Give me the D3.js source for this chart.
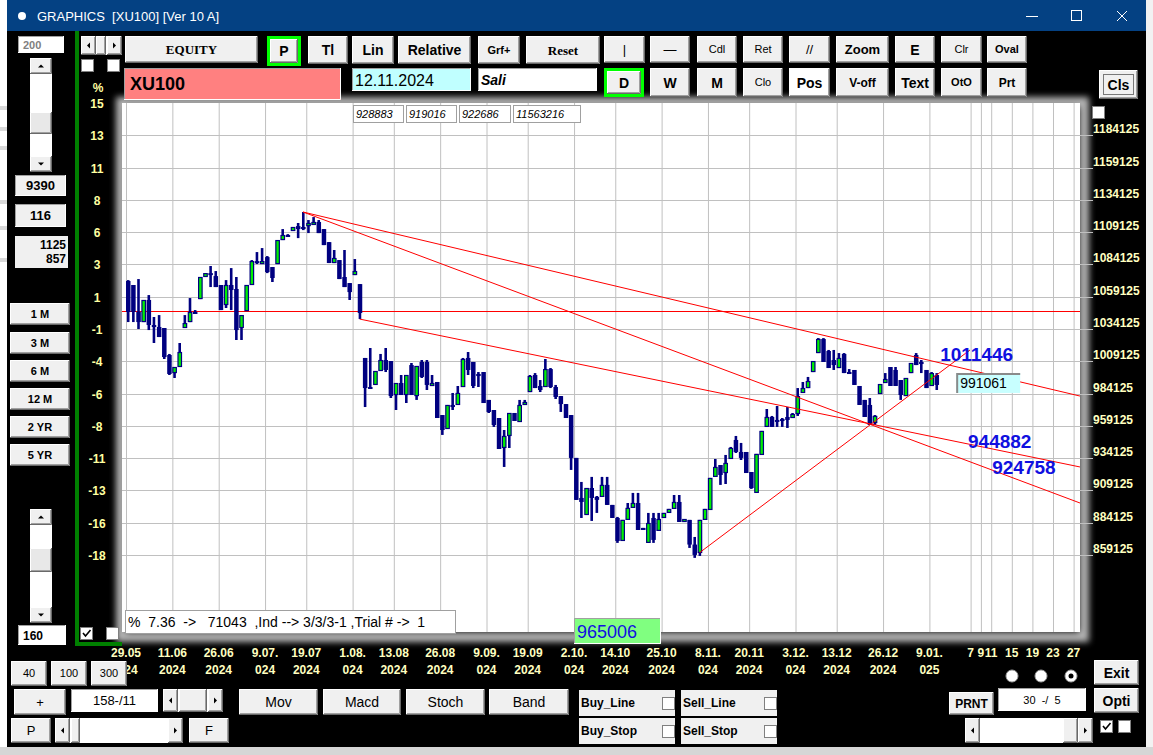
<!DOCTYPE html>
<html>
<head>
<meta charset="utf-8">
<title>GRAPHICS [XU100]</title>
<script src="https://cdn.jsdelivr.net/npm/d3@7"></script>
<style>
  body { margin: 0; background: #000; overflow: hidden; }
  svg { display: block; }
  text { white-space: pre; }
</style>
</head>
<body>
<svg id="app" width="1153" height="755"></svg>
<script>
// daily bars, values in thousands (right axis shows value * 1000)
const barOpen = [
  1071.3, 1068.2, 1047.3, 1039.5, 1056.6, 1037.2, 1035.7, 1034.9, 1014.0, 1000.0,
  1004.7, 1034.9, 1039.5, 1047.3, 1057.3, 1074.4, 1077.4, 1075.1, 1068.2, 1052.7,
  1068.2, 1065.1, 1034.9, 1048.0, 1068.2, 1086.7, 1085.2, 1089.8, 1082.1, 1084.4,
  1103.0, 1106.9, 1110.0, 1113.8, 1113.1, 1113.8, 1116.2, 1117.0, 1111.5, 1101.4,
  1085.2, 1087.5, 1074.4, 1069.7, 1075.9, 1068.9, 1011.7, 989.2, 990.8, 1001.6,
  1010.1, 1009.3, 983.0, 992.3, 983.0, 1006.2, 982.2, 1008.6, 1008.6, 991.5,
  993.1, 967.5, 956.7, 975.3, 975.3, 989.2, 1011.7, 1008.6, 999.3, 1000.8,
  979.2, 971.4, 965.2, 942.0, 951.3, 969.1, 962.1, 976.0, 985.3, 998.5,
  990.0, 989.2, 1003.1, 989.2, 982.2, 976.0, 967.5, 934.3, 903.3, 890.1,
  911.0, 904.1, 904.1, 913.4, 897.9, 887.8, 870.0, 886.3, 895.6, 899.4,
  880.1, 868.5, 887.8, 877.8, 887.8, 891.7, 894.8, 900.2, 885.5, 886.3,
  867.2, 860.7, 886.3, 894.0, 919.6, 928.8, 922.6, 933.5, 948.2, 938.9,
  938.9, 923.4, 907.2, 936.6, 958.3, 966.0, 963.7, 964.4, 966.0, 965.2,
  968.3, 984.6, 988.4, 1000.8, 1015.5, 1026.4, 1017.1, 1010.1, 1003.9, 1014.8,
  1000.8, 1002.4, 990.0, 979.2, 975.3, 961.3, 983.8, 992.3, 1004.7, 1002.4,
  994.6, 982.2, 1000.0, 1014.0, 1008.6, 1002.4, 990.0, 998.5
];
const barHigh = [
  1072.0, 1068.2, 1072.8, 1056.6, 1060.4, 1043.4, 1044.9, 1034.9, 1014.8, 1004.7,
  1023.3, 1044.9, 1058.1, 1048.8, 1074.4, 1077.4, 1082.9, 1079.0, 1068.2, 1072.0,
  1081.3, 1074.4, 1044.9, 1068.2, 1087.5, 1093.7, 1096.8, 1090.6, 1082.1, 1103.0,
  1111.5, 1107.6, 1113.1, 1116.2, 1124.7, 1118.5, 1120.8, 1118.5, 1111.5, 1101.4,
  1095.3, 1087.5, 1095.3, 1069.7, 1088.3, 1068.9, 1011.7, 1019.4, 1001.6, 1014.8,
  1019.4, 1009.3, 992.3, 998.5, 998.5, 1007.8, 1005.5, 1010.1, 1010.1, 998.5,
  993.1, 967.5, 975.3, 984.6, 990.0, 1011.7, 1016.3, 1008.6, 1000.8, 1000.8,
  979.2, 971.4, 965.2, 955.9, 969.1, 969.1, 979.2, 979.2, 998.5, 1000.0,
  994.6, 1010.9, 1003.9, 990.8, 982.2, 976.0, 967.5, 934.3, 915.7, 911.0,
  919.6, 904.8, 919.6, 919.6, 897.9, 888.6, 886.3, 899.4, 907.2, 907.2,
  880.1, 891.7, 891.7, 891.7, 891.7, 894.8, 905.6, 905.6, 887.0, 886.3,
  873.1, 886.3, 894.8, 918.8, 933.5, 928.8, 936.6, 942.8, 951.3, 945.9,
  938.9, 923.4, 937.4, 955.2, 972.2, 966.8, 974.5, 965.2, 973.7, 969.1,
  988.4, 993.1, 997.0, 1009.3, 1027.1, 1027.1, 1017.9, 1017.9, 1015.5, 1015.5,
  1003.1, 1002.4, 990.0, 979.2, 980.7, 967.5, 991.5, 1000.0, 1004.7, 1004.7,
  994.6, 996.2, 1007.8, 1015.5, 1010.1, 1002.4, 1000.8, 1000.0
];
const barLow = [
  1039.5, 1039.5, 1034.1, 1039.5, 1033.3, 1023.3, 1027.9, 1010.9, 998.5, 996.2,
  1004.7, 1034.9, 1039.5, 1046.5, 1057.3, 1074.4, 1066.6, 1066.6, 1048.8, 1050.4,
  1048.8, 1025.6, 1025.6, 1048.0, 1068.2, 1084.4, 1085.2, 1077.4, 1070.5, 1084.4,
  1103.0, 1106.1, 1110.0, 1104.5, 1110.7, 1108.4, 1116.2, 1108.4, 1099.1, 1085.2,
  1085.2, 1072.8, 1066.6, 1056.6, 1075.9, 1041.8, 973.7, 987.7, 990.8, 1001.6,
  1000.8, 980.7, 971.4, 983.0, 976.8, 983.0, 979.2, 996.2, 986.9, 990.0,
  965.2, 952.1, 956.7, 971.4, 975.3, 989.2, 998.5, 988.4, 989.2, 976.8,
  969.1, 958.3, 941.2, 927.3, 942.0, 962.9, 962.1, 975.3, 985.3, 988.4,
  985.3, 989.2, 988.4, 979.9, 969.9, 965.2, 925.0, 901.8, 887.8, 890.1,
  885.5, 891.7, 904.1, 897.9, 887.8, 868.5, 870.0, 886.3, 895.6, 878.5,
  878.5, 868.5, 868.5, 877.8, 887.8, 891.7, 894.8, 884.7, 885.5, 864.6,
  856.9, 858.4, 886.3, 894.0, 919.6, 913.4, 914.1, 933.5, 938.1, 932.7,
  922.6, 910.3, 907.2, 936.6, 958.3, 958.3, 958.3, 958.3, 957.5, 965.2,
  966.8, 984.6, 988.4, 1000.8, 1015.5, 1008.6, 1003.9, 1002.4, 1003.9, 1000.0,
  999.3, 990.8, 975.3, 966.0, 959.8, 959.8, 983.8, 992.3, 990.0, 990.0,
  979.2, 982.2, 1000.0, 1006.2, 1000.0, 988.4, 990.0, 986.9
];
const barClose = [
  1047.3, 1047.3, 1039.5, 1056.6, 1037.2, 1035.7, 1027.9, 1012.4, 999.3, 1004.7,
  1016.3, 1038.7, 1047.3, 1046.5, 1074.4, 1077.4, 1076.7, 1066.6, 1048.8, 1068.2,
  1064.3, 1033.3, 1044.9, 1068.2, 1086.7, 1085.2, 1086.7, 1078.2, 1073.6, 1103.0,
  1106.9, 1106.1, 1113.1, 1111.5, 1111.5, 1116.2, 1117.0, 1108.4, 1099.1, 1085.2,
  1089.1, 1072.8, 1066.6, 1062.7, 1079.0, 1046.5, 988.4, 988.4, 1001.6, 1010.1,
  1002.4, 982.2, 992.3, 983.0, 998.5, 983.0, 1005.5, 997.0, 990.8, 992.3,
  965.2, 955.9, 975.3, 973.7, 984.6, 1010.9, 1002.4, 990.0, 997.7, 976.8,
  969.9, 959.8, 941.2, 951.3, 969.1, 962.9, 975.3, 977.6, 997.7, 988.4,
  986.9, 1003.1, 989.2, 981.5, 976.0, 965.2, 934.3, 901.8, 900.2, 911.0,
  903.3, 901.8, 913.4, 897.9, 887.8, 870.0, 886.3, 895.6, 899.4, 878.5,
  878.5, 883.9, 870.8, 887.0, 891.7, 894.8, 900.2, 884.7, 887.0, 867.2,
  859.2, 886.3, 894.8, 918.8, 927.3, 921.1, 930.4, 942.0, 938.9, 934.3,
  922.6, 911.0, 937.4, 955.2, 966.0, 958.3, 962.9, 962.9, 963.7, 968.3,
  982.2, 988.4, 993.8, 1009.3, 1026.4, 1008.6, 1003.9, 1006.2, 1011.7, 1000.0,
  1000.0, 990.8, 975.3, 966.0, 959.8, 966.8, 991.5, 995.4, 990.0, 990.0,
  983.0, 996.2, 1007.8, 1006.2, 1007.0, 988.4, 1000.0, 990.8
];

// x axis: bar index of each dated grid line
const dateTickIdx = [0, 9, 18, 27, 35, 44, 52, 61, 70, 78, 87, 95, 104, 113, 121, 130, 138, 147, 156];
const dateTickTop = ["29.05", "11.06", "26.06", "9.07.", "19.07", "1.08.", "13.08", "26.08", "9.09.", "19.09",
                     "2.10.", "14.10", "25.10", "8.11.", "20.11", "3.12.", "13.12", "26.12", "9.01."];
// first one is cut by the 300 button, only "24" shows
const dateTickBottom = ["24", "2024", "2024", "024", "2024", "024", "2024", "2024", "024", "2024",
                        "024", "2024", "2024", "024", "2024", "024", "2024", "2024", "025"];
const futureTickIdx = [164, 166, 168, 172, 176, 180, 184];
const futureTickLabels = ["7", "9", "11", "15", "19", "23", "27"];

// y axis: grid levels (thousands) with the % labels of the left scale
const priceTicks = [1209.125, 1184.125, 1159.125, 1134.125, 1109.125, 1084.125, 1059.125, 1034.125,
                    1009.125, 984.125, 959.125, 934.125, 909.125, 884.125, 859.125];
const pctLabels = ["15", "13", "11", "8", "6", "3", "1", "-1", "-4", "-6", "-8", "-11", "-13", "-16", "-18"];
const baseLevel = 1048.0;

// drawn trend lines: [bar index, value] -> [bar index, value]
const trendLines = [
  [[34, 1124.7], [184.85, 982.2]],
  [[34, 1124.7], [184.85, 899.4]],
  [[45, 1041.8], [184.85, 927.3]],
  [[111, 861.0], [163.5, 1017.9]]
];
const lineValueLabels = [["1011446", 158.1, 1009.3], ["944882", 163.5, 942.0], ["924758", 168.2, 921.9]];
const lastValueBox = ["991061", 161.2, 1000.0, 984.6];

const NAVY = "#000080", GREEN = "#00f000", RED = "#ff0000", GRID = "#c0c0c0";
const AXIS_TXT = "#ffffc0";
const FONT = "'Liberation Sans', Arial, sans-serif";
const SERIF = "'Liberation Serif', 'Times New Roman', serif";
const PLOT = {left: 122, right: 1080, top: 103, bottom: 632};

const X = d3.scaleLinear().domain([0, 184]).range([126, 126 + 5.15 * 184]);
const Y = d3.scaleLinear().domain([859.125, 1209.125]).range([555, 103]);

const svg = d3.select("#app");
const defs = svg.append("defs");
defs.append("filter").attr("id", "soft")
    .attr("x", "-5%").attr("y", "-5%").attr("width", "110%").attr("height", "110%")
  .append("feGaussianBlur").attr("stdDeviation", 3);
defs.append("clipPath").attr("id", "plotClip").append("rect")
    .attr("x", PLOT.left).attr("y", PLOT.top)
    .attr("width", PLOT.right - PLOT.left + 2).attr("height", PLOT.bottom - PLOT.top);
defs.append("clipPath").attr("id", "rightClip").append("rect")
    .attr("x", 1085).attr("y", 122).attr("width", 60).attr("height", 500);

// ---------- helpers ----------
function label(x, y, str, size, opts = {}) {
  return svg.append("text")
      .attr("x", x).attr("y", y)
      .attr("font-family", opts.family || FONT)
      .attr("font-size", size)
      .attr("font-weight", opts.bold ? "bold" : "normal")
      .attr("font-style", opts.italic ? "italic" : "normal")
      .attr("text-anchor", opts.anchor || "start")
      .attr("fill", opts.color || "#000")
      .text(str);
}

function box(x, y, w, h, fill, style) {
  const g = svg.append("g");
  g.append("rect").attr("x", x).attr("y", y).attr("width", w).attr("height", h).attr("fill", fill);
  if (style === "raised") {
    g.append("path").attr("d", `M${x + 0.5},${y + h - 1}V${y + 0.5}H${x + w - 1}`)
        .attr("stroke", "#fff").attr("fill", "none");
    g.append("path").attr("d", `M${x},${y + h - 0.5}H${x + w - 0.5}V${y}`)
        .attr("stroke", "#696969").attr("fill", "none");
    g.append("path").attr("d", `M${x + 1},${y + h - 1.5}H${x + w - 1.5}V${y + 1}`)
        .attr("stroke", "#a0a0a0").attr("fill", "none");
  } else if (style === "sunken") {
    g.append("path").attr("d", `M${x + 0.5},${y + h}V${y + 0.5}H${x + w}`)
        .attr("stroke", "#a0a0a0").attr("fill", "none");
    g.append("path").attr("d", `M${x},${y + h - 0.5}H${x + w - 0.5}V${y}`)
        .attr("stroke", "#fff").attr("fill", "none");
  } else if (style === "line") {
    g.select("rect").attr("stroke", "#a0a0a0").attr("x", x + 0.5).attr("y", y + 0.5)
        .attr("width", w - 1).attr("height", h - 1);
  }
  return g;
}

function button(x, y, w, h, str, size, opts = {}) {
  box(x, y, w, h, opts.face || "#f0f0f0", "raised");
  label(x + w / 2, y + h / 2 + size * 0.36, str, size, Object.assign({anchor: "middle"}, opts));
}

function checkbox(x, y, checked) {
  svg.append("rect").attr("x", x + 0.5).attr("y", y + 0.5).attr("width", 12).attr("height", 12)
      .attr("fill", "#fff").attr("stroke", "#808080");
  if (checked) {
    svg.append("path").attr("d", `M${x + 3},${y + 6}l2.5,3l5,-6`)
        .attr("stroke", "#000").attr("stroke-width", 1.6).attr("fill", "none");
  }
}

function arrow(cx, cy, dir) {
  const p = {up: "M-3,1.5L3,1.5L0,-1.5Z", down: "M-3,-1.5L3,-1.5L0,1.5Z",
             left: "M1.5,-3L1.5,3L-1.5,0Z", right: "M-1.5,-3L-1.5,3L1.5,0Z"}[dir];
  svg.append("path").attr("d", p).attr("transform", `translate(${cx},${cy})`).attr("fill", "#000");
}

function vscroll(x, y, w, h, thumbY, thumbH) {
  svg.append("rect").attr("x", x).attr("y", y).attr("width", w).attr("height", h).attr("fill", "#fff");
  box(x, y, w, 16, "#f0f0f0", "raised"); arrow(x + w / 2, y + 8, "up");
  box(x, y + h - 16, w, 16, "#f0f0f0", "raised"); arrow(x + w / 2, y + h - 8, "down");
  box(x, thumbY, w, thumbH, "#e8e8e8", "raised");
}

function hscroll(x, y, w, h, thumbX, thumbW) {
  svg.append("rect").attr("x", x).attr("y", y).attr("width", w).attr("height", h).attr("fill", "#fff");
  box(x, y, 15, h, "#f0f0f0", "raised"); arrow(x + 7.5, y + h / 2, "left");
  box(x + w - 15, y, 15, h, "#f0f0f0", "raised"); arrow(x + w - 7.5, y + h / 2, "right");
  box(thumbX, y, thumbW, h, "#f0f0f0", "raised");
}

// ---------- window ----------
svg.append("rect").attr("width", 1153).attr("height", 755).attr("fill", "#000");
svg.append("rect").attr("x", 0).attr("y", 0).attr("width", 7).attr("height", 747).attr("fill", "#fff");
[106, 127, 146, 200, 226, 258].forEach(yy =>
  svg.append("rect").attr("x", 0).attr("y", yy).attr("width", 7).attr("height", 4).attr("fill", "#d9d9d9"));
svg.append("rect").attr("x", 1146).attr("y", 0).attr("width", 7).attr("height", 755).attr("fill", "#f2f2f2");
svg.append("rect").attr("x", 0).attr("y", 747).attr("width", 1153).attr("height", 8).attr("fill", "#d6d6d6");

svg.append("rect").attr("x", 7).attr("y", 0).attr("width", 1139).attr("height", 31).attr("fill", "#044183");
svg.append("circle").attr("cx", 22).attr("cy", 16).attr("r", 4).attr("fill", "#fff");
label(37, 21, "GRAPHICS  [XU100] [Ver 10 A]", 13, {color: "#fff"});
svg.append("path").attr("d", "M1026,16.5H1038").attr("stroke", "#fff");
svg.append("rect").attr("x", 1071.5).attr("y", 10.5).attr("width", 10).attr("height", 10)
    .attr("fill", "none").attr("stroke", "#fff");
svg.append("path").attr("d", "M1117,11L1127,21M1127,11L1117,21").attr("stroke", "#fff");

// ---------- plot frame ----------
svg.append("rect").attr("x", 121).attr("y", 102).attr("width", 963).attr("height", 535)
    .attr("fill", "none").attr("stroke", "#b4b4b4").attr("stroke-width", 10).attr("filter", "url(#soft)");
svg.append("rect").attr("x", PLOT.left).attr("y", PLOT.top)
    .attr("width", PLOT.right - PLOT.left).attr("height", PLOT.bottom - PLOT.top).attr("fill", "#fff");

// grid
const grid = svg.append("g");
grid.selectAll(".vgrid").data(dateTickIdx.concat(futureTickIdx)).join("line")
    .attr("x1", d => X(d) + 0.5).attr("x2", d => X(d) + 0.5)
    .attr("y1", PLOT.top).attr("y2", PLOT.bottom)
    .attr("stroke", GRID);
grid.selectAll(".hgrid").data(priceTicks.slice(1)).join("line")
    .attr("x1", PLOT.left).attr("x2", 1093)
    .attr("y1", d => Math.round(Y(d)) + 0.5).attr("y2", d => Math.round(Y(d)) + 0.5)
    .attr("stroke", GRID);

// right axis labels
svg.append("g").attr("clip-path", "url(#rightClip)")
  .selectAll("text").data(priceTicks.slice(1)).join("text")
    .attr("x", 1093).attr("y", d => Y(d) - 2)
    .attr("font-family", FONT).attr("font-size", 12).attr("font-weight", "bold")
    .attr("fill", AXIS_TXT)
    .text(d => Math.round(d * 1000));

// left % labels
svg.append("g").selectAll("text").data(priceTicks).join("text")
    .attr("x", 97).attr("y", d => Y(d) + 5)
    .attr("text-anchor", "middle")
    .attr("font-family", FONT).attr("font-size", 12).attr("font-weight", "bold")
    .attr("fill", "#ffffa0")
    .text((d, i) => pctLabels[i]);
label(98, 92, "%", 12, {bold: true, color: "#ffffa0", anchor: "middle"});

// date labels
const dates = svg.append("g").attr("font-family", FONT).attr("font-size", 12)
    .attr("font-weight", "bold").attr("fill", AXIS_TXT).attr("text-anchor", "middle");
dates.selectAll(".d1").data(dateTickIdx).join("text")
    .attr("x", d => X(d)).attr("y", 657).text((d, i) => dateTickTop[i]);
dates.selectAll(".d2").data(dateTickIdx).join("text")
    .attr("x", d => d === 0 ? X(d) + 5 : X(d)).attr("y", 674).text((d, i) => dateTickBottom[i]);
dates.selectAll(".d3").data(futureTickIdx).join("text")
    .attr("x", d => X(d)).attr("y", 657).text((d, i) => futureTickLabels[i]);

// chart content
const plot = svg.append("g").attr("clip-path", "url(#plotClip)");
plot.append("line")
    .attr("x1", PLOT.left).attr("x2", PLOT.right)
    .attr("y1", Math.round(Y(baseLevel)) + 0.5).attr("y2", Math.round(Y(baseLevel)) + 0.5)
    .attr("stroke", RED);

const bars = barClose.map((c, i) => ({i, o: barOpen[i], h: barHigh[i], l: barLow[i], c}));
plot.selectAll(".wick").data(bars).join("line")
    .attr("x1", d => X(d.i) + 2.2).attr("x2", d => X(d.i) + 2.2)
    .attr("y1", d => Y(d.h)).attr("y2", d => Y(d.l))
    .attr("stroke", NAVY).attr("stroke-width", 2.6);
plot.selectAll(".body").data(bars).join("rect")
    .attr("x", d => X(d.i) + (d.c > d.o ? 0.5 : 0))
    .attr("y", d => Y(Math.max(d.o, d.c)) + (d.c > d.o ? 0.5 : 0))
    .attr("width", d => d.c > d.o ? 3.5 : 4.5)
    .attr("height", d => Math.max(2, Math.abs(Y(d.o) - Y(d.c)) - (d.c > d.o ? 1 : 0)))
    .attr("fill", d => d.c > d.o ? GREEN : NAVY)
    .attr("stroke", d => d.c > d.o ? NAVY : "none")
    .attr("stroke-width", 1.2);

plot.selectAll(".trend").data(trendLines).join("line")
    .attr("x1", d => X(d[0][0]) + 2).attr("y1", d => Y(d[0][1]))
    .attr("x2", d => X(d[1][0]) + 2).attr("y2", d => Y(d[1][1]))
    .attr("stroke", RED).attr("stroke-width", 1);

svg.selectAll(".lineval").data(lineValueLabels).join("text")
    .attr("x", d => X(d[1])).attr("y", d => Y(d[2]))
    .attr("font-family", FONT).attr("font-size", 19).attr("font-weight", "bold")
    .attr("fill", "#1010e0")
    .text(d => d[0]);

{
  const bx = X(lastValueBox[1]), by = Y(lastValueBox[2]);
  const bw = 64, bh = Y(lastValueBox[3]) - by;
  svg.append("rect").attr("x", bx).attr("y", by).attr("width", bw).attr("height", bh).attr("fill", "#c8ffff");
  svg.append("path").attr("d", `M${bx + 1},${by + bh}V${by + 1}H${bx + bw}`)
      .attr("stroke", "#8a8a8a").attr("stroke-width", 2).attr("fill", "none");
  label(bx + 4, by + bh - 5, lastValueBox[0], 14);
}

// boxes on the chart
box(125, 610, 331, 24, "#fff", "line");
label(128, 627, "%  7.36  ->   71043  ,Ind --> 3/3/3-1 ,Trial # ->  1", 14);
box(574, 618, 87, 26, "#80ff80", "sunken");
label(577, 638, "965006", 18, {color: "#1010e0"});

[["928883", 353, 51], ["919016", 406, 51], ["922686", 459, 52], ["11563216", 513, 68]].forEach(b => {
  box(b[1], 105, b[2], 18, "#fff", "line");
  label(b[1] + 3, 118, b[0], 11, {italic: true});
});

// ---------- top toolbar ----------
button(125, 36, 133, 27, "EQUITY", 13, {bold: true, family: SERIF});
svg.append("rect").attr("x", 267).attr("y", 36).attr("width", 34).attr("height", 30).attr("fill", "#00ff00");
button(270, 39, 28, 24, "P", 14, {bold: true});
button(308, 36, 40, 28, "Tl", 14, {bold: true});
button(352, 36, 42, 28, "Lin", 14, {bold: true});
button(398, 36, 73, 28, "Relative", 14, {bold: true});
button(478, 36, 42, 28, "Grf+", 11, {bold: true});
button(526, 36, 74, 28, "Reset", 13, {bold: true, family: SERIF});
button(604, 36, 41, 27, "|", 13);
button(650, 36, 40, 27, "—", 13);
button(697, 36, 40, 27, "Cdl", 11);
button(743, 36, 40, 27, "Ret", 11);
button(789, 36, 41, 27, "//", 13);
button(836, 36, 53, 27, "Zoom", 13, {bold: true});
button(895, 36, 40, 27, "E", 14, {bold: true});
button(941, 36, 41, 27, "Clr", 11);
button(987, 36, 40, 27, "Oval", 11, {bold: true});

svg.append("rect").attr("x", 604).attr("y", 68).attr("width", 40).attr("height", 29).attr("fill", "#00ff00");
button(607, 71, 34, 23, "D", 14, {bold: true});
button(650, 68, 40, 29, "W", 14, {bold: true});
button(697, 68, 40, 29, "M", 14, {bold: true});
button(743, 68, 40, 29, "Clo", 11);
button(789, 68, 41, 29, "Pos", 14, {bold: true, face: "#fff"});
button(836, 68, 53, 29, "V-off", 12, {bold: true});
button(895, 68, 40, 29, "Text", 14, {bold: true});
button(941, 68, 41, 29, "OtO", 11, {bold: true});
button(987, 68, 40, 29, "Prt", 12, {bold: true});
button(1099, 70, 39, 29, "Cls", 14, {bold: true});
svg.append("rect").attr("x", 1103.5).attr("y", 74.5).attr("width", 30).attr("height", 20)
    .attr("fill", "none").attr("stroke", "#000").attr("stroke-dasharray", "1,1");
checkbox(1092, 106, false);

box(124, 68, 217, 32, "#ff8080", "sunken");
label(130, 90, "XU100", 18, {bold: true});
box(352, 68, 119, 23, "#c0ffff", "sunken");
label(355, 86, "12.11.2024", 16);
box(478, 68, 119, 23, "#fff", "sunken");
label(481, 85, "Sali", 14, {italic: true, bold: true});

// ---------- left panel ----------
svg.append("rect").attr("x", 75).attr("y", 31).attr("width", 4).attr("height", 615).attr("fill", "#008000");
svg.append("rect").attr("x", 75).attr("y", 642).attr("width", 47).attr("height", 4).attr("fill", "#008000");

box(18, 36, 46, 17, "#fff", "sunken");
label(23, 49, "200", 11, {bold: true, color: "#808080"});
hscroll(81, 36, 41, 19, 96, 10);
checkbox(81, 59, false);
checkbox(107, 59, false);
vscroll(30, 58, 22, 114, 112, 22);
box(15, 175, 51, 21, "#f0f0f0", "sunken");
label(40.5, 190, "9390", 13, {bold: true, anchor: "middle"});
box(15, 204, 51, 23, "#f0f0f0", "sunken");
label(40.5, 220, "116", 13, {bold: true, anchor: "middle"});
svg.append("rect").attr("x", 15).attr("y", 236).attr("width", 53).attr("height", 32).attr("fill", "#f0f0f0");
label(66, 249, "1125", 12, {bold: true, anchor: "end"});
label(66, 263, "857", 12, {bold: true, anchor: "end"});
[["1 M", 303], ["3 M", 332], ["6 M", 360], ["12 M", 388], ["2 YR", 416], ["5 YR", 444]].forEach(b =>
  button(10, b[1], 60, 22, b[0], 11, {bold: true}));
vscroll(30, 509, 22, 114, 548, 24);
box(18, 625, 48, 20, "#fff", "sunken");
label(23, 640, "160", 12, {bold: true});
checkbox(80, 627, true);
checkbox(106, 627, false);

// ---------- bottom controls ----------
button(11, 661, 36, 25, "40", 11);
button(51, 661, 36, 25, "100", 11);
button(91, 661, 36, 25, "300", 11);
button(14, 689, 52, 26, "+", 13);
box(71, 689, 87, 23, "#fff", "sunken");
label(114.5, 705, "158-/11", 13, {anchor: "middle"});
hscroll(163, 689, 60, 23, 179, 28);
button(239, 689, 79, 26, "Mov", 14);
button(323, 689, 78, 26, "Macd", 14);
button(406, 689, 79, 26, "Stoch", 14);
button(489, 689, 80, 26, "Band", 14);
button(11, 718, 40, 25, "P", 13);
hscroll(55, 718, 128, 25, 71, 9);
button(189, 718, 40, 25, "F", 13);

[["Buy_Line", 579, 690], ["Sell_Line", 681, 690], ["Buy_Stop", 579, 718], ["Sell_Stop", 681, 718]].forEach(b => {
  svg.append("rect").attr("x", b[1]).attr("y", b[2]).attr("width", 96).attr("height", 26).attr("fill", "#f0f0f0");
  label(b[1] + 2, b[2] + 17, b[0], 12, {bold: true});
  checkbox(b[1] + 83, b[2] + 7, false);
});

[1012, 1041, 1071].forEach((cx, i) => {
  svg.append("circle").attr("cx", cx).attr("cy", 676).attr("r", 6)
      .attr("fill", "#fff").attr("stroke", "#a0a0a0");
  if (i === 2) svg.append("circle").attr("cx", cx).attr("cy", 676).attr("r", 2.5).attr("fill", "#000");
});
button(1094, 660, 45, 25, "Exit", 14, {bold: true});
button(1094, 688, 45, 25, "Opti", 14, {bold: true});
button(949, 692, 45, 23, "PRNT", 12, {bold: true});
box(998, 688, 88, 23, "#fff", "sunken");
label(1042, 704, "30  -/  5", 11, {anchor: "middle"});
hscroll(965, 718, 128, 25, 1063, 15);
checkbox(1100, 720, true);
checkbox(1118, 720, false);
</script>
</body>
</html>
